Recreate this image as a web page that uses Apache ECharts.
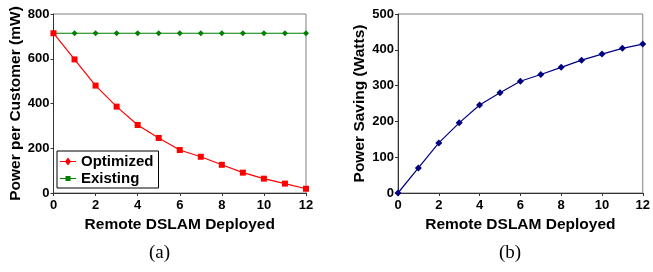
<!DOCTYPE html>
<html>
<head>
<meta charset="utf-8">
<script src="https://cdn.jsdelivr.net/npm/echarts@6/dist/echarts.min.js"></script>
<style>
  html, body { margin: 0; padding: 0; background: #fff; }
  #chart { width: 653px; height: 272px; }
</style>
</head>
<body>
<div id="chart"></div>
<script>
// x positions: remote DSLAMs deployed
const deployed = [0, 1, 2, 3, 4, 5, 6, 7, 8, 9, 10, 11, 12];
// (a) power per customer (mW)
const optimized = [714, 597, 480, 386, 304, 246, 192, 162, 126, 91, 64, 42, 19];
const existing = [714, 714, 714, 714, 714, 714, 714, 714, 714, 714, 714, 714, 714];
// (b) power saving (Watts)
const saving = [0, 70, 140, 196, 246, 280, 312, 331, 351, 371, 388, 404, 416];

const pairs = (ys) => deployed.map((x, i) => [x, ys[i]]);

const chart = echarts.init(document.getElementById('chart'));

const labelFont = { color: '#000', fontFamily: 'Liberation Sans', fontWeight: 'bold', fontSize: 13 };
const nameFont = { color: '#000', fontFamily: 'Liberation Sans', fontWeight: 'bold', fontSize: 15.5 };

function xAxisFor(gridIndex) {
  return {
    gridIndex: gridIndex, type: 'value', min: 0, max: 12, interval: 2,
    name: 'Remote DSLAM Deployed', nameLocation: 'middle', nameGap: 24, nameTextStyle: nameFont,
    axisLine: { lineStyle: { color: '#333', width: 1 } },
    axisTick: { show: true, length: 3, lineStyle: { color: '#333' } },
    axisLabel: Object.assign({ margin: 6 }, labelFont),
    splitLine: { show: false }
  };
}

function yAxisFor(gridIndex, max, interval, name, gap) {
  return {
    gridIndex: gridIndex, type: 'value', min: 0, max: max, interval: interval,
    name: name, nameLocation: 'middle', nameGap: gap, nameTextStyle: nameFont,
    axisLine: { show: true, lineStyle: { color: '#333', width: 1 } },
    axisTick: { show: true, length: 3, lineStyle: { color: '#333' } },
    axisLabel: Object.assign({ margin: 4 }, labelFont),
    splitLine: { show: false }
  };
}

chart.setOption({
  animation: false,
  grid: [
    { left: 53.5, top: 14, width: 252.5, height: 179, show: true, borderColor: '#808080', borderWidth: 1 },
    { left: 398, top: 14, width: 251, height: 179, show: true, borderColor: '#808080', borderWidth: 1 }
  ],
  xAxis: [xAxisFor(0), xAxisFor(1)],
  yAxis: [
    yAxisFor(0, 800, 200, 'Power per Customer (mW)', 28),
    yAxisFor(1, 500, 100, 'Power Saving (Watts)', 30)
  ],
  legend: {
    orient: 'vertical', left: 57, top: 151,
    padding: [3, 5, 2, 3], itemGap: 2, itemWidth: 16, itemHeight: 8,
    borderColor: '#000', borderWidth: 1, backgroundColor: '#fff',
    textStyle: { color: '#000', fontFamily: 'Liberation Sans', fontWeight: 'bold', fontSize: 15 },
    data: [
      { name: 'Optimized', icon: 'path://M0,3.5L16,3.5L16,4.5L0,4.5Z M8,0L11,4L8,8L5,4Z' },
      { name: 'Existing', icon: 'path://M0,0L0.01,0L0,0.01Z M0,3.5L16,3.5L16,4.5L0,4.5Z M5.5,1.5L10.5,1.5L10.5,6.5L5.5,6.5Z M0,8L0.01,8L0,7.99Z' }
    ]
  },
  series: [
    {
      name: 'Optimized', type: 'line', xAxisIndex: 0, yAxisIndex: 0,
      data: pairs(optimized), symbol: 'rect', symbolSize: 6,
      itemStyle: { color: '#ff0000' }, lineStyle: { color: '#ff0000', width: 1.2 }, z: 3
    },
    {
      name: 'Existing', type: 'line', xAxisIndex: 0, yAxisIndex: 0,
      data: pairs(existing), symbol: 'diamond', symbolSize: 6,
      itemStyle: { color: '#008000' }, lineStyle: { color: '#008000', width: 1.2 }, z: 2
    },
    {
      name: 'Power Saving', type: 'line', xAxisIndex: 1, yAxisIndex: 1,
      data: pairs(saving), symbol: 'diamond', symbolSize: 7,
      itemStyle: { color: '#000080' }, lineStyle: { color: '#000080', width: 1.2 }
    }
  ],
  graphic: [
    { type: 'text', left: 149, top: 244, style: { text: '(a)', font: '19px "Liberation Serif"', fill: '#000' } },
    { type: 'text', left: 499, top: 244, style: { text: '(b)', font: '19px "Liberation Serif"', fill: '#000' } }
  ]
});
</script>
</body>
</html>
